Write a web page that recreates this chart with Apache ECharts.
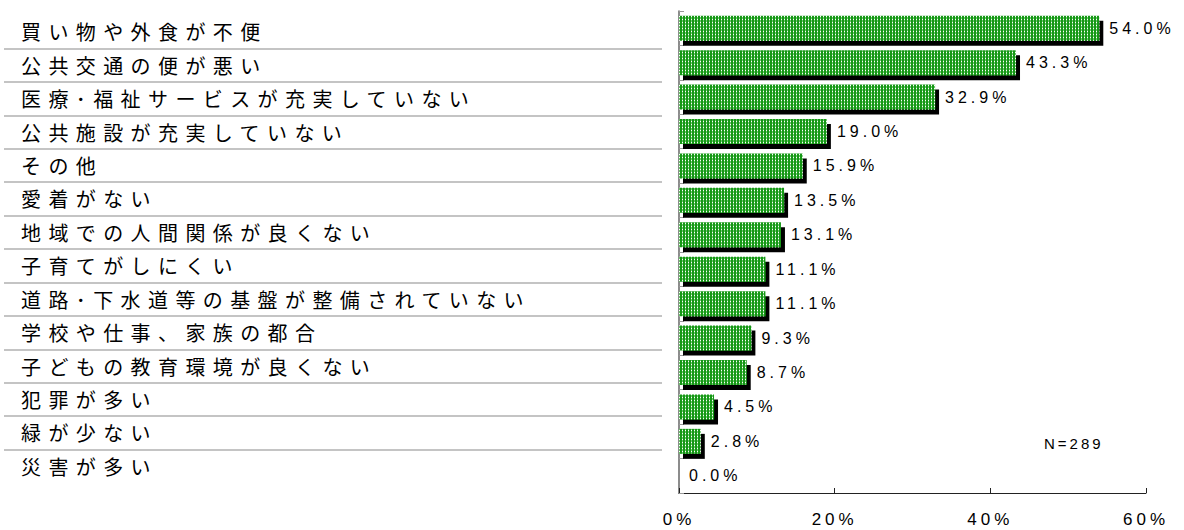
<!DOCTYPE html>
<html lang="ja">
<head>
<meta charset="UTF-8">
<title>転出したい理由</title>
<style>
    html, body { margin: 0; padding: 0; background: #fff; }
    #main { width: 1184px; height: 530px; }
    /* zrender has no letter-spacing option, so widen the svg text by font size */
    #main text[style*="20px"] { letter-spacing: 7.4px; }
    #main text[style*="16px"] { letter-spacing: 4px; }
    #main text[style*="17px"] { letter-spacing: 4px; }
    #main text[style*="15px"] { letter-spacing: 3px; }
</style>
</head>
<body>
<div id="main"></div>
<script src="https://cdn.jsdelivr.net/npm/echarts@6/dist/echarts.min.js"></script>
<script>
    // 項目
    const categories = [
        '買い物や外食が不便',
        '公共交通の便が悪い',
        '医療･福祉サービスが充実していない',
        '公共施設が充実していない',
        'その他',
        '愛着がない',
        '地域での人間関係が良くない',
        '子育てがしにくい',
        '道路･下水道等の基盤が整備されていない',
        '学校や仕事、家族の都合',
        '子どもの教育環境が良くない',
        '犯罪が多い',
        '緑が少ない',
        '災害が多い'
    ];
    // 割合(%)
    const values = [54.0, 43.3, 32.9, 19.0, 15.9, 13.5, 13.1, 11.1, 11.1, 9.3, 8.7, 4.5, 2.8, 0.0];
    // x軸の目盛
    const xTicks = [0, 20, 40, 60];
    const note = 'N=289';

    const numFont = 'Liberation Sans, Arial, sans-serif';

    // 緑の網点パターン
    function dotPattern() {
        const c = document.createElement('canvas');
        c.width = 3;
        c.height = 3;
        const ctx = c.getContext('2d');
        ctx.fillStyle = '#189818';
        ctx.fillRect(0, 0, 3, 3);
        ctx.fillStyle = '#6cc46c';
        ctx.fillRect(1, 0, 1, 3);
        ctx.fillStyle = '#ffffff';
        ctx.fillRect(1, 1, 1, 1);
        return c;
    }

    const myChart = echarts.init(document.getElementById('main'), null, {renderer: 'svg'});

    const option = {
        animation: false,
        title: {
            text: note,
            left: 1044,
            top: 436,
            padding: 0,
            textStyle: {fontSize: 15, fontWeight: 'normal', color: '#000', fontFamily: numFont}
        },
        grid: [
            // グラフ本体
            {left: 679, right: 38, top: 11, bottom: 37},
            // 左側の項目名と区切り線
            {left: 4, width: 658, top: 15, height: 468}
        ],
        xAxis: [
            {
                gridIndex: 0,
                type: 'value',
                min: xTicks[0],
                max: xTicks[xTicks.length - 1],
                interval: xTicks[1] - xTicks[0],
                axisLine: {show: true, lineStyle: {color: '#222', width: 1}},
                axisTick: {show: true, inside: true, length: 5, lineStyle: {color: '#222'}},
                splitLine: {show: false},
                axisLabel: {
                    margin: 18,
                    fontSize: 17,
                    color: '#000',
                    fontFamily: numFont,
                    formatter: '{value}%'
                }
            },
            {gridIndex: 1, type: 'value', show: false}
        ],
        yAxis: [
            {
                gridIndex: 0,
                type: 'category',
                inverse: true,
                data: categories,
                axisLine: {show: true, lineStyle: {color: '#666', width: 1.5}},
                axisTick: {show: true, inside: true, length: 5, lineStyle: {color: '#999'}},
                axisLabel: {show: false}
            },
            {
                gridIndex: 1,
                type: 'category',
                inverse: true,
                data: categories,
                axisLine: {show: false},
                axisTick: {show: false},
                splitLine: {
                    show: true,
                    showMinLine: false,
                    showMaxLine: false,
                    lineStyle: {color: '#c4c4c4', width: 2}
                },
                axisLabel: {
                    inside: true,
                    margin: 17,
                    padding: [7, 0, 0, 0],
                    fontSize: 20,
                    color: '#000',
                    fontFamily: 'Noto Sans CJK JP'
                }
            }
        ],
        series: [
            {
                type: 'bar',
                xAxisIndex: 0,
                yAxisIndex: 0,
                data: values,
                barWidth: 25,
                silent: true,
                itemStyle: {
                    color: {image: dotPattern(), repeat: 'repeat', imageWidth: 3, imageHeight: 3},
                    shadowColor: '#000',
                    shadowBlur: 0,
                    shadowOffsetX: 4,
                    shadowOffsetY: 5
                },
                label: {
                    show: true,
                    position: 'right',
                    distance: 10,
                    fontSize: 16,
                    color: '#000',
                    fontFamily: numFont,
                    formatter: p => p.value.toFixed(1) + '%'
                }
            }
        ]
    };

    myChart.setOption(option);
</script>
</body>
</html>
